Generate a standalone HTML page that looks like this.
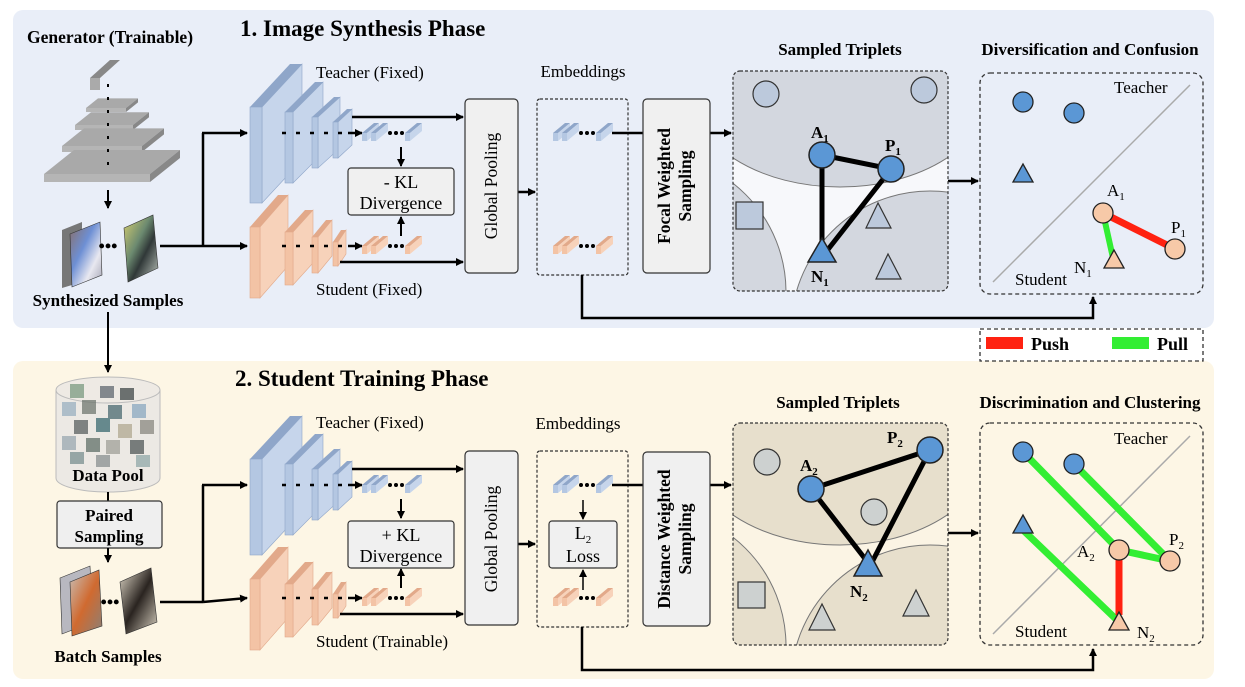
<!DOCTYPE html>
<html><head><meta charset="utf-8"><style>
html,body{margin:0;padding:0;background:#fff;width:1245px;height:687px;overflow:hidden;}
svg{display:block;font-family:"Liberation Serif",serif;}
.b{font-weight:bold;}
</style></head><body>
<svg id="s" width="1245" height="687" viewBox="0 0 1245 687" xmlns="http://www.w3.org/2000/svg">
<defs>
<marker id="ar" markerWidth="8" markerHeight="8" refX="7" refY="4" orient="auto" markerUnits="userSpaceOnUse"><path d="M0,0 L8,4 L0,8 z" fill="#000"/></marker>
<linearGradient id="g1" x1="0" y1="0" x2="1" y2="1"><stop offset="0" stop-color="#8a6e66"/><stop offset=".4" stop-color="#6d8fd4"/><stop offset=".7" stop-color="#e8e8f0"/><stop offset="1" stop-color="#a0a0b0"/></linearGradient>
<linearGradient id="g2" x1="0" y1="0" x2="1" y2="1"><stop offset="0" stop-color="#d8d070"/><stop offset=".4" stop-color="#6c8a70"/><stop offset=".6" stop-color="#303838"/><stop offset="1" stop-color="#c0c8c0"/></linearGradient>
<linearGradient id="g3" x1="0" y1="0" x2="1" y2="1"><stop offset="0" stop-color="#c8c0b8"/><stop offset=".5" stop-color="#d06a30"/><stop offset="1" stop-color="#8a8078"/></linearGradient>
<linearGradient id="g4" x1="0" y1="0" x2="1" y2="1"><stop offset="0" stop-color="#e0d8c8"/><stop offset=".5" stop-color="#2a2420"/><stop offset="1" stop-color="#d8d0c0"/></linearGradient>
</defs>
<rect x="13" y="10" width="1201" height="318" rx="10" fill="#e9eef8"/>
<rect x="13" y="361" width="1201" height="318" rx="10" fill="#fdf6e5"/>

<text x="240" y="36" font-size="23" class="b">1. Image Synthesis Phase</text>
<text x="235" y="386" font-size="23" class="b">2. Student Training Phase</text>

<text x="110" y="43" font-size="17.5" class="b" text-anchor="middle">Generator (Trainable)</text>
<g id="gen"></g>
<line x1="108" y1="190" x2="108" y2="208" stroke="#000" stroke-width="2" marker-end="url(#ar)"/>
<polygon points="62,230 82,222 82,282 62,288" fill="#777"/>
<polygon points="70,234 100,222 102,275 72,287" fill="url(#g1)" stroke="#333" stroke-width=".6"/>
<polygon points="124,228 153,215 158,268 128,282" fill="url(#g2)" stroke="#333" stroke-width=".6"/>
<text x="108" y="252" font-size="18" class="b" text-anchor="middle">•••</text>
<text x="108" y="306" font-size="17" class="b" text-anchor="middle">Synthesized Samples</text>
<line x1="108" y1="312" x2="108" y2="372" stroke="#000" stroke-width="2" marker-end="url(#ar)"/>

<path d="M56,390 L56,478 A52,14 0 0 0 160,478 L160,390" fill="#ece9e4" stroke="#bbb"/>
<ellipse cx="108" cy="390" rx="52" ry="13" fill="#eeeae4" stroke="#bbb"/>
<g opacity=".75">
<rect x="70" y="384" width="14" height="14" fill="#7a9a80"/><rect x="100" y="386" width="14" height="12" fill="#606870"/><rect x="120" y="388" width="14" height="12" fill="#404848"/>
<rect x="62" y="402" width="14" height="14" fill="#9ab0c0"/><rect x="82" y="400" width="14" height="14" fill="#707870"/><rect x="108" y="405" width="14" height="14" fill="#4a6a70"/><rect x="132" y="404" width="14" height="14" fill="#8aa8c0"/>
<rect x="74" y="420" width="14" height="14" fill="#5a6060"/><rect x="96" y="418" width="14" height="14" fill="#3a6a70"/><rect x="118" y="424" width="14" height="14" fill="#b0a890"/><rect x="140" y="420" width="14" height="14" fill="#8a8880"/>
<rect x="62" y="436" width="14" height="14" fill="#9aa8b0"/><rect x="86" y="438" width="14" height="14" fill="#607068"/><rect x="106" y="440" width="14" height="14" fill="#a0a098"/><rect x="130" y="440" width="14" height="14" fill="#505858"/>
<rect x="70" y="452" width="14" height="12" fill="#7a9090"/><rect x="96" y="455" width="14" height="12" fill="#8a9090"/><rect x="136" y="455" width="14" height="12" fill="#90a8a8"/>
</g>
<text x="108" y="481" font-size="17" class="b" text-anchor="middle">Data Pool</text>
<line x1="108" y1="492" x2="108" y2="501" stroke="#000" stroke-width="2"/>
<rect x="57" y="501" width="105" height="47" rx="3" fill="#efefef" stroke="#333" stroke-width="1.2"/>
<text x="109" y="521" font-size="17" class="b" text-anchor="middle">Paired</text>
<text x="109" y="542" font-size="17" class="b" text-anchor="middle">Sampling</text>
<line x1="108" y1="548" x2="108" y2="562" stroke="#000" stroke-width="2" marker-end="url(#ar)"/>
<polygon points="60,578 90,566 93,622 62,634" fill="#b8b8c0" stroke="#333" stroke-width=".6"/>
<polygon points="70,582 99,570 102,626 72,636" fill="url(#g3)" stroke="#333" stroke-width=".6"/>
<polygon points="120,582 151,568 157,622 126,634" fill="url(#g4)" stroke="#333" stroke-width=".6"/>
<text x="110" y="608" font-size="18" class="b" text-anchor="middle">•••</text>
<text x="108" y="662" font-size="17" class="b" text-anchor="middle">Batch Samples</text>

<g id="nets"></g>

<g id="phase1">
<text x="316" y="78" font-size="17">Teacher (Fixed)</text>
<text x="316" y="295" font-size="17">Student (Fixed)</text>
<text x="583" y="77" font-size="17" text-anchor="middle">Embeddings</text>
<rect x="348" y="168" width="106" height="47" rx="3" fill="#f0f0f0" stroke="#333" stroke-width="1.2"/>
<text x="401" y="188" font-size="18" text-anchor="middle">- KL</text>
<text x="401" y="209" font-size="18" text-anchor="middle">Divergence</text>
<rect x="643" y="99" width="67" height="174" rx="4" fill="#f0f0f0" stroke="#333" stroke-width="1.2"/>
<text transform="translate(670,186) rotate(-90)" font-size="17.5" class="b" text-anchor="middle">Focal Weighted</text>
<text transform="translate(691,186) rotate(-90)" font-size="17.5" class="b" text-anchor="middle">Sampling</text>
</g>
<g id="phase2">
<text x="316" y="428" font-size="17">Teacher (Fixed)</text>
<text x="316" y="647" font-size="17">Student (Trainable)</text>
<text x="578" y="429" font-size="17" text-anchor="middle">Embeddings</text>
<rect x="348" y="521" width="106" height="47" rx="3" fill="#f0f0f0" stroke="#333" stroke-width="1.2"/>
<text x="401" y="541" font-size="18" text-anchor="middle">+ KL</text>
<text x="401" y="562" font-size="18" text-anchor="middle">Divergence</text>
<rect x="549" y="521" width="68" height="47" rx="3" fill="#f0f0f0" stroke="#333" stroke-width="1.2"/>
<text x="583" y="539" font-size="18" text-anchor="middle">L<tspan font-size="11" dy="4">2</tspan></text>
<text x="583" y="562" font-size="18" text-anchor="middle">Loss</text>
<line x1="583" y1="500" x2="583" y2="519" stroke="#000" stroke-width="1.5" marker-end="url(#ar)"/>
<line x1="583" y1="590" x2="583" y2="570" stroke="#000" stroke-width="1.5" marker-end="url(#ar)"/>
<rect x="643" y="452" width="67" height="174" rx="4" fill="#f0f0f0" stroke="#333" stroke-width="1.2"/>
<text transform="translate(670,539) rotate(-90)" font-size="17.5" class="b" text-anchor="middle">Distance Weighted</text>
<text transform="translate(691,539) rotate(-90)" font-size="17.5" class="b" text-anchor="middle">Sampling</text>
</g>

<text x="840" y="55" font-size="17" class="b" text-anchor="middle">Sampled Triplets</text>
<clipPath id="c1"><rect x="733" y="71" width="215" height="220" rx="7"/></clipPath>
<g clip-path="url(#c1)">
<rect x="733" y="71" width="215" height="220" fill="#f7f8fb"/>
<ellipse cx="840" cy="90" rx="150" ry="97" fill="#d3d7df" stroke="#777"/>
<circle cx="648" cy="292" r="138" fill="#d3d7df" stroke="#777"/>
<circle cx="930" cy="330" r="139" fill="#d3d7df" stroke="#777"/>
</g>
<rect x="733" y="71" width="215" height="220" rx="7" fill="none" stroke="#333" stroke-dasharray="3,2" stroke-width="1.2"/>
<circle cx="766" cy="94" r="13" fill="#bcc9dc" stroke="#333" stroke-width="1.2"/>
<circle cx="924" cy="90" r="13" fill="#bcc9dc" stroke="#333" stroke-width="1.2"/>
<rect x="736" y="202" width="27" height="27" fill="#bcc9dc" stroke="#333" stroke-width="1.2"/>
<polygon points="878,203 866,228 891,228" fill="#bcc9dc" stroke="#333" stroke-width="1.2"/>
<polygon points="888,254 876,279 901,279" fill="#bcc9dc" stroke="#333" stroke-width="1.2"/>
<g stroke="#000" stroke-width="5"><line x1="822" y1="155" x2="891" y2="169"/><line x1="822" y1="155" x2="822" y2="245"/><line x1="891" y1="169" x2="826" y2="252"/></g>
<circle cx="822" cy="155" r="13" fill="#5b97d5" stroke="#222" stroke-width="1.5"/>
<circle cx="891" cy="169" r="13" fill="#5b97d5" stroke="#222" stroke-width="1.5"/>
<polygon points="822,238 808,262 836,262" fill="#5b97d5" stroke="#222" stroke-width="1.5"/>
<text x="811" y="138" font-size="17" class="b">A<tspan font-size="11" dy="4">1</tspan></text>
<text x="885" y="151" font-size="17" class="b">P<tspan font-size="11" dy="4">1</tspan></text>
<text x="811" y="282" font-size="17" class="b">N<tspan font-size="11" dy="4">1</tspan></text>

<text x="838" y="408" font-size="17" class="b" text-anchor="middle">Sampled Triplets</text>
<clipPath id="c2"><rect x="733" y="423" width="215" height="222" rx="7"/></clipPath>
<g clip-path="url(#c2)">
<rect x="733" y="423" width="215" height="222" fill="#fbf4e4"/>
<ellipse cx="840" cy="445" rx="150" ry="100" fill="#e7dfcc" stroke="#777"/>
<circle cx="648" cy="646" r="138" fill="#e7dfcc" stroke="#777"/>
<circle cx="930" cy="684" r="139" fill="#e7dfcc" stroke="#777"/>
</g>
<rect x="733" y="423" width="215" height="222" rx="7" fill="none" stroke="#333" stroke-dasharray="3,2" stroke-width="1.2"/>
<circle cx="767" cy="462" r="13" fill="#cdd1d0" stroke="#333" stroke-width="1.2"/>
<circle cx="874" cy="512" r="13" fill="#cdd1d0" stroke="#333" stroke-width="1.2"/>
<rect x="738" y="582" width="27" height="26" fill="#cdd1d0" stroke="#333" stroke-width="1.2"/>
<polygon points="822,604 809,630 835,630" fill="#cdd1d0" stroke="#333" stroke-width="1.2"/>
<polygon points="916,590 903,616 929,616" fill="#cdd1d0" stroke="#333" stroke-width="1.2"/>
<g stroke="#000" stroke-width="5"><line x1="811" y1="489" x2="930" y2="450"/><line x1="811" y1="489" x2="866" y2="560"/><line x1="930" y1="450" x2="870" y2="566"/></g>
<circle cx="811" cy="489" r="13" fill="#5b97d5" stroke="#222" stroke-width="1.5"/>
<circle cx="930" cy="450" r="13" fill="#5b97d5" stroke="#222" stroke-width="1.5"/>
<polygon points="868,550 854,576 882,576" fill="#5b97d5" stroke="#222" stroke-width="1.5"/>
<text x="800" y="471" font-size="17" class="b">A<tspan font-size="11" dy="4">2</tspan></text>
<text x="887" y="443" font-size="17" class="b">P<tspan font-size="11" dy="4">2</tspan></text>
<text x="850" y="597" font-size="17" class="b">N<tspan font-size="11" dy="4">2</tspan></text>

<text x="1090" y="55" font-size="17" class="b" text-anchor="middle">Diversification and Confusion</text>
<rect x="980" y="73" width="223" height="221" rx="10" fill="none" stroke="#333" stroke-dasharray="4,3" stroke-width="1.3"/>
<line x1="993" y1="282" x2="1190" y2="85" stroke="#aaa" stroke-width="1.5"/>
<text x="1114" y="93" font-size="17">Teacher</text>
<text x="1015" y="285" font-size="17">Student</text>
<circle cx="1023" cy="102" r="10" fill="#5b97d5" stroke="#222" stroke-width="1.3"/>
<circle cx="1074" cy="113" r="10" fill="#5b97d5" stroke="#222" stroke-width="1.3"/>
<polygon points="1023,164 1013,182 1033,182" fill="#5b97d5" stroke="#222" stroke-width="1.3"/>
<line x1="1103" y1="213" x2="1175" y2="249" stroke="#f21" stroke-width="7"/>
<line x1="1103" y1="213" x2="1113" y2="258" stroke="#3e3" stroke-width="6"/>
<circle cx="1103" cy="213" r="10" fill="#f7c9a8" stroke="#222" stroke-width="1.3"/>
<circle cx="1175" cy="249" r="10" fill="#f7c9a8" stroke="#222" stroke-width="1.3"/>
<polygon points="1114,250 1104,268 1124,268" fill="#f7c9a8" stroke="#222" stroke-width="1.3"/>
<text x="1107" y="196" font-size="17">A<tspan font-size="11" dy="4">1</tspan></text>
<text x="1171" y="233" font-size="17">P<tspan font-size="11" dy="4">1</tspan></text>
<text x="1074" y="273" font-size="17">N<tspan font-size="11" dy="4">1</tspan></text>

<rect x="980" y="329" width="223" height="32" fill="#fff" stroke="#333" stroke-dasharray="4,3" stroke-width="1.3"/>
<rect x="986" y="337" width="37" height="12" fill="#f21"/>
<text x="1031" y="350" font-size="18" class="b">Push</text>
<rect x="1112" y="337" width="37" height="12" fill="#3e3"/>
<text x="1157" y="350" font-size="18" class="b">Pull</text>

<text x="1090" y="408" font-size="17" class="b" text-anchor="middle">Discrimination and Clustering</text>
<rect x="980" y="423" width="223" height="222" rx="10" fill="none" stroke="#333" stroke-dasharray="4,3" stroke-width="1.3"/>
<line x1="993" y1="634" x2="1190" y2="436" stroke="#aaa" stroke-width="1.5"/>
<text x="1114" y="444" font-size="17">Teacher</text>
<text x="1015" y="637" font-size="17">Student</text>
<g stroke="#3e3" stroke-width="7">
<line x1="1023" y1="452" x2="1119" y2="550"/><line x1="1074" y1="464" x2="1170" y2="561"/><line x1="1023" y1="530" x2="1119" y2="622"/><line x1="1119" y1="550" x2="1170" y2="561"/>
</g>
<line x1="1119" y1="550" x2="1119" y2="615" stroke="#f21" stroke-width="7"/>
<circle cx="1023" cy="452" r="10" fill="#5b97d5" stroke="#222" stroke-width="1.3"/>
<circle cx="1074" cy="464" r="10" fill="#5b97d5" stroke="#222" stroke-width="1.3"/>
<polygon points="1023,515 1013,533 1033,533" fill="#5b97d5" stroke="#222" stroke-width="1.3"/>
<circle cx="1119" cy="550" r="10" fill="#f7c9a8" stroke="#222" stroke-width="1.3"/>
<circle cx="1170" cy="561" r="10" fill="#f7c9a8" stroke="#222" stroke-width="1.3"/>
<polygon points="1119,612 1109,630 1129,630" fill="#f7c9a8" stroke="#222" stroke-width="1.3"/>
<text x="1077" y="557" font-size="17">A<tspan font-size="11" dy="4">2</tspan></text>
<text x="1169" y="545" font-size="17">P<tspan font-size="11" dy="4">2</tspan></text>
<text x="1137" y="638" font-size="17">N<tspan font-size="11" dy="4">2</tspan></text>

<g id="gp"></g>
<text transform="translate(497,186) rotate(-90)" font-size="17.5" text-anchor="middle">Global Pooling</text>
<text transform="translate(497,539) rotate(-90)" font-size="17.5" text-anchor="middle">Global Pooling</text>
</svg>
<script>
var NS="http://www.w3.org/2000/svg",s=document.getElementById("s");
function el(t,a,p){var e=document.createElementNS(NS,t);for(var k in a)e.setAttribute(k,a[k]);(p||s).appendChild(e);return e;}
var nets=document.getElementById("nets"),gp=document.getElementById("gp");
var gen=document.getElementById("gen");
var plates=[[86,112,40,12,4,4],[75,130,58,16,5,5],[62,152,80,22,6,6],[44,182,106,30,8,8]];
plates.forEach(function(p){var x=p[0],y=p[1],w=p[2],d=p[3],dy=p[3]*0.8,t=p[5];
 el("polygon",{points:[x,y-t,x+w,y-t,x+w+d,y-t-dy,x+d,y-t-dy].join(","),fill:"#a9a9a9"},gen);
 el("polygon",{points:[x,y-t,x+w,y-t,x+w,y,x,y].join(","),fill:"#b5b5b5"},gen);
 el("polygon",{points:[x+w,y-t,x+w+d,y-t-dy,x+w+d,y-dy,x+w,y].join(","),fill:"#888"},gen);});
el("polygon",{points:"90,78 100,78 120,60 110,60",fill:"#888"},gen);
el("polygon",{points:"90,78 100,78 100,90 90,90",fill:"#aaa"},gen);
el("line",{x1:108,y1:84,x2:108,y2:172,stroke:"#000","stroke-width":2,"stroke-dasharray":"3,10"},gen);
function block(x,wf,d,yf,yb,dy,c,oy){yf+=oy;yb+=oy;
 el("polygon",{points:[x,yf,x+d,yf-dy,x+wf+d,yf-dy,x+wf,yf].join(","),fill:c[0]},nets);
 el("polygon",{points:[x+wf,yf,x+wf+d,yf-dy,x+wf+d,yb-dy,x+wf,yb].join(","),fill:c[1],stroke:c[0],"stroke-width":.6},nets);
 el("rect",{x:x,y:yf,width:wf,height:yb-yf,fill:c[2],stroke:c[0],"stroke-width":.6},nets);}
var TB=["#8fa6c9","#c6d5eb","#b4c7e2"],SB=["#e2a98a","#f7d2ba","#f3c3a5"];
function bar(x,y,c){el("polygon",{points:[x,y+10,x+12,y,x+17,y,x+5,y+10].join(","),fill:c[0]},nets);el("rect",{x:x,y:y+10,width:5,height:8,fill:c[2]},nets);el("polygon",{points:[x+5,y+10,x+17,y,x+17,y+8,x+5,y+18].join(","),fill:c[1]},nets);}
function feats(x,y,c){bar(x,y,c);bar(x+9,y,c);bar(x+43,y,c);[x+28,x+34,x+40].forEach(function(cx){el("circle",{cx:cx,cy:y+10,r:2,fill:"#000"},nets);});}
function A(x1,y1,x2,y2,m,w,da){var a={x1:x1,y1:y1,x2:x2,y2:y2,stroke:"#000","stroke-width":w||2.5};if(m)a["marker-end"]="url(#ar)";if(da)a["stroke-dasharray"]=da;el("line",a,nets);}
[0,352].forEach(function(o,i){
 block(250,12,40,107,203,43,TB,o);block(285,8,30,112,183,30,TB,o);block(312,6,22,117,168,20,TB,o);block(333,5,14,122,158,13,TB,o);
 block(250,10,28,227,298,32,SB,o);block(285,8,20,232,285,22,SB,o);block(312,6,14,237,273,17,SB,o);block(333,5,8,242,266,12,SB,o);
 var sy=i?602:246;
 A(160,sy,203,sy,0);A(203,133+o,203,sy,0);A(202,133+o,247,133+o,1);A(203,sy,247,246+o,1);
 A(282,133+o,348,133+o,0,2.5,"4,10");A(348,133+o,362,133+o,1);
 A(282,246+o,348,246+o,0,2.5,"4,10");A(348,246+o,362,246+o,1);
 feats(362,o+123,TB);feats(362,o+236,SB);
 A(401,147+o,401,166+o,1,2);A(401,236+o,401,217+o,1,2);
 A(352,117+o,463,117+o,1);A(340,262+o,463,262+o,1);
 el("rect",{x:465,y:99+o,width:53,height:174,rx:4,fill:"#f0f0f0",stroke:"#333","stroke-width":1.2},gp);
 A(518,192+o,535,192+o,1);
 el("rect",{x:537,y:99+o,width:91,height:176,rx:3,fill:"none",stroke:"#333","stroke-width":1.2,"stroke-dasharray":"3,2"},nets);
 feats(553,o+123,TB);feats(553,o+236,SB);
 A(612,133+o,643,133+o,0);A(710,133+o,731,133+o,1);
 A(948,181+o,978,181+o,1);
 el("polyline",{points:[582,275+o,582,318+o,1093,318+o,1093,297+o].join(","),fill:"none",stroke:"#000","stroke-width":2.5,"marker-end":"url(#ar)"},nets);
});
s.appendChild(document.getElementById("phase1"));s.appendChild(document.getElementById("phase2"));
</script>
</body></html>
